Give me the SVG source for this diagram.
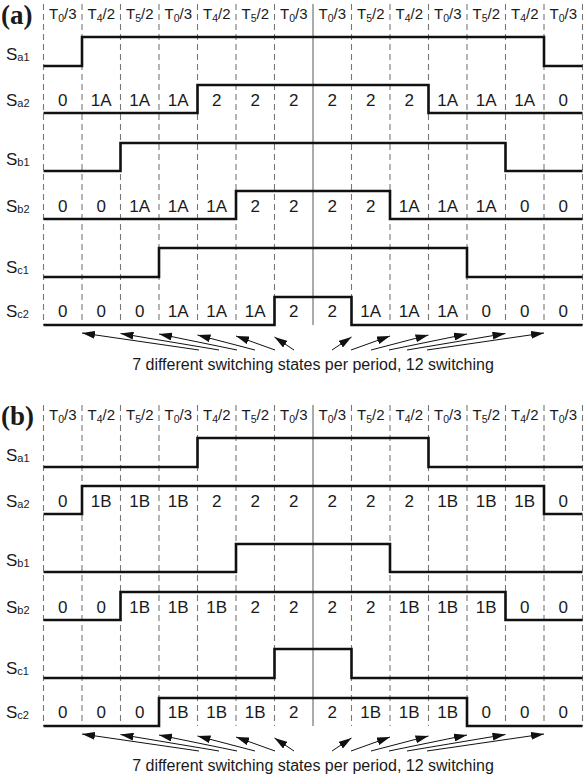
<svg xmlns="http://www.w3.org/2000/svg" width="587" height="776" viewBox="0 0 587 776">
<style>
text{font-family:"Liberation Sans",Arial,sans-serif;fill:#1a1a1a}
.hd{font-size:15px;text-anchor:middle}
.num{font-size:17px;text-anchor:middle}
.lbl{font-size:17px}
.cap{font-size:16px;text-anchor:middle}
.pl{font-family:"Liberation Serif","Times New Roman",serif;font-size:27px;font-weight:bold}
.wave{fill:none;stroke:#111;stroke-width:2.6}
.grid{stroke:#777;stroke-width:1.1;stroke-dasharray:6 4}
.ctr{stroke:#666;stroke-width:1.1}
.arr{stroke:#111;stroke-width:1;fill:none;marker-end:url(#ah)}
</style>
<defs>
<marker id="ah" viewBox="0 0 13 8" refX="13" refY="4" markerWidth="13" markerHeight="8" markerUnits="userSpaceOnUse" orient="auto"><path d="M0,0 L13,4 L0,8 z" fill="#111"/></marker>
<g id="gridA">
<line class="grid" x1="43.5" y1="4" x2="43.5" y2="325"/>
<line class="grid" x1="82" y1="4" x2="82" y2="325"/>
<line class="grid" x1="120.5" y1="4" x2="120.5" y2="325"/>
<line class="grid" x1="159" y1="4" x2="159" y2="325"/>
<line class="grid" x1="197.5" y1="4" x2="197.5" y2="325"/>
<line class="grid" x1="236" y1="4" x2="236" y2="325"/>
<line class="grid" x1="274.5" y1="4" x2="274.5" y2="325"/>
<line class="ctr" x1="313" y1="4" x2="313" y2="325"/>
<line class="grid" x1="351.5" y1="4" x2="351.5" y2="325"/>
<line class="grid" x1="390" y1="4" x2="390" y2="325"/>
<line class="grid" x1="428.5" y1="4" x2="428.5" y2="325"/>
<line class="grid" x1="467" y1="4" x2="467" y2="325"/>
<line class="grid" x1="505.5" y1="4" x2="505.5" y2="325"/>
<line class="grid" x1="544" y1="4" x2="544" y2="325"/>
<line class="grid" x1="582.5" y1="4" x2="582.5" y2="325"/>
</g>
<g id="hdrA">
<text class="hd" x="62.75" y="19">T<tspan font-size="10.5" dy="3">0</tspan><tspan dy="-3">/3</tspan></text>
<text class="hd" x="101.25" y="19">T<tspan font-size="10.5" dy="3">4</tspan><tspan dy="-3">/2</tspan></text>
<text class="hd" x="139.75" y="19">T<tspan font-size="10.5" dy="3">5</tspan><tspan dy="-3">/2</tspan></text>
<text class="hd" x="178.25" y="19">T<tspan font-size="10.5" dy="3">0</tspan><tspan dy="-3">/3</tspan></text>
<text class="hd" x="216.75" y="19">T<tspan font-size="10.5" dy="3">4</tspan><tspan dy="-3">/2</tspan></text>
<text class="hd" x="255.25" y="19">T<tspan font-size="10.5" dy="3">5</tspan><tspan dy="-3">/2</tspan></text>
<text class="hd" x="293.75" y="19">T<tspan font-size="10.5" dy="3">0</tspan><tspan dy="-3">/3</tspan></text>
<text class="hd" x="332.25" y="19">T<tspan font-size="10.5" dy="3">0</tspan><tspan dy="-3">/3</tspan></text>
<text class="hd" x="370.75" y="19">T<tspan font-size="10.5" dy="3">5</tspan><tspan dy="-3">/2</tspan></text>
<text class="hd" x="409.25" y="19">T<tspan font-size="10.5" dy="3">4</tspan><tspan dy="-3">/2</tspan></text>
<text class="hd" x="447.75" y="19">T<tspan font-size="10.5" dy="3">0</tspan><tspan dy="-3">/3</tspan></text>
<text class="hd" x="486.25" y="19">T<tspan font-size="10.5" dy="3">5</tspan><tspan dy="-3">/2</tspan></text>
<text class="hd" x="524.75" y="19">T<tspan font-size="10.5" dy="3">4</tspan><tspan dy="-3">/2</tspan></text>
<text class="hd" x="563.25" y="19">T<tspan font-size="10.5" dy="3">0</tspan><tspan dy="-3">/3</tspan></text>
</g>
<g id="arrA">
<line class="arr" x1="199" y1="350" x2="82" y2="333"/>
<line class="arr" x1="219" y1="350" x2="120.5" y2="333.5"/>
<line class="arr" x1="237" y1="350" x2="159" y2="334"/>
<line class="arr" x1="255" y1="350" x2="197.5" y2="335"/>
<line class="arr" x1="275" y1="350" x2="236" y2="336"/>
<line class="arr" x1="294" y1="350" x2="274.5" y2="337"/>
<line class="arr" x1="332" y1="350" x2="351.5" y2="337"/>
<line class="arr" x1="351" y1="350" x2="390" y2="336"/>
<line class="arr" x1="371" y1="350" x2="428.5" y2="335"/>
<line class="arr" x1="389" y1="350" x2="467" y2="334"/>
<line class="arr" x1="407" y1="350" x2="505.5" y2="333.5"/>
<line class="arr" x1="427" y1="350" x2="544" y2="333"/>
</g>
</defs>

<g id="panel-a">
<text class="pl" x="1" y="24">(a)</text>
<g id="grid-a"><use href="#gridA"/></g>
<g id="header-a"><use href="#hdrA"/></g>
<g id="a-Sa1"><text class="lbl" x="6" y="60">S<tspan font-size="11" dy="1">a1</tspan></text>
<path class="wave" d="M43.5,66 H82 V37 H544 V66 H582.5"/></g>
<g id="a-Sa2"><text class="lbl" x="6" y="106">S<tspan font-size="11" dy="1">a2</tspan></text>
<path class="wave" d="M43.5,113 H197.5 V85 H428.5 V113 H582.5"/>
<text class="num" x="62.75" y="106">0</text><text class="num" x="101.25" y="106">1A</text><text class="num" x="139.75" y="106">1A</text><text class="num" x="178.25" y="106">1A</text><text class="num" x="216.75" y="106">2</text><text class="num" x="255.25" y="106">2</text><text class="num" x="293.75" y="106">2</text><text class="num" x="332.25" y="106">2</text><text class="num" x="370.75" y="106">2</text><text class="num" x="409.25" y="106">2</text><text class="num" x="447.75" y="106">1A</text><text class="num" x="486.25" y="106">1A</text><text class="num" x="524.75" y="106">1A</text><text class="num" x="563.25" y="106">0</text></g>
<g id="a-Sb1"><text class="lbl" x="6" y="165">S<tspan font-size="11" dy="1">b1</tspan></text>
<path class="wave" d="M43.5,171 H120.5 V143 H505.5 V171 H582.5"/></g>
<g id="a-Sb2"><text class="lbl" x="6" y="212">S<tspan font-size="11" dy="1">b2</tspan></text>
<path class="wave" d="M43.5,219 H236 V191 H390 V219 H582.5"/>
<text class="num" x="62.75" y="212">0</text><text class="num" x="101.25" y="212">0</text><text class="num" x="139.75" y="212">1A</text><text class="num" x="178.25" y="212">1A</text><text class="num" x="216.75" y="212">1A</text><text class="num" x="255.25" y="212">2</text><text class="num" x="293.75" y="212">2</text><text class="num" x="332.25" y="212">2</text><text class="num" x="370.75" y="212">2</text><text class="num" x="409.25" y="212">1A</text><text class="num" x="447.75" y="212">1A</text><text class="num" x="486.25" y="212">1A</text><text class="num" x="524.75" y="212">0</text><text class="num" x="563.25" y="212">0</text></g>
<g id="a-Sc1"><text class="lbl" x="6" y="273">S<tspan font-size="11" dy="1">c1</tspan></text>
<path class="wave" d="M43.5,277 H159 V248 H467 V277 H582.5"/></g>
<g id="a-Sc2"><text class="lbl" x="6" y="317">S<tspan font-size="11" dy="1">c2</tspan></text>
<path class="wave" d="M43.5,325 H274.5 V297 H351.5 V325 H582.5"/>
<text class="num" x="62.75" y="317">0</text><text class="num" x="101.25" y="317">0</text><text class="num" x="139.75" y="317">0</text><text class="num" x="178.25" y="317">1A</text><text class="num" x="216.75" y="317">1A</text><text class="num" x="255.25" y="317">1A</text><text class="num" x="293.75" y="317">2</text><text class="num" x="332.25" y="317">2</text><text class="num" x="370.75" y="317">1A</text><text class="num" x="409.25" y="317">1A</text><text class="num" x="447.75" y="317">1A</text><text class="num" x="486.25" y="317">0</text><text class="num" x="524.75" y="317">0</text><text class="num" x="563.25" y="317">0</text></g>
<g id="connectors-a"><use href="#arrA"/></g>
<text class="cap" x="313" y="370">7 different switching states per period, 12 switching</text>
</g>

<g id="panel-b">
<text class="pl" x="1" y="425">(b)</text>
<g id="grid-b"><use href="#gridA" y="401"/></g>
<g id="header-b"><use href="#hdrA" y="401"/></g>
<g id="b-Sa1"><text class="lbl" x="6" y="461">S<tspan font-size="11" dy="1">a1</tspan></text>
<path class="wave" d="M43.5,467 H197.5 V438 H428.5 V467 H582.5"/></g>
<g id="b-Sa2"><text class="lbl" x="6" y="507">S<tspan font-size="11" dy="1">a2</tspan></text>
<path class="wave" d="M43.5,514 H82 V486 H544 V514 H582.5"/>
<text class="num" x="62.75" y="507">0</text><text class="num" x="101.25" y="507">1B</text><text class="num" x="139.75" y="507">1B</text><text class="num" x="178.25" y="507">1B</text><text class="num" x="216.75" y="507">2</text><text class="num" x="255.25" y="507">2</text><text class="num" x="293.75" y="507">2</text><text class="num" x="332.25" y="507">2</text><text class="num" x="370.75" y="507">2</text><text class="num" x="409.25" y="507">2</text><text class="num" x="447.75" y="507">1B</text><text class="num" x="486.25" y="507">1B</text><text class="num" x="524.75" y="507">1B</text><text class="num" x="563.25" y="507">0</text></g>
<g id="b-Sb1"><text class="lbl" x="6" y="566">S<tspan font-size="11" dy="1">b1</tspan></text>
<path class="wave" d="M43.5,572 H236 V544 H390 V572 H582.5"/></g>
<g id="b-Sb2"><text class="lbl" x="6" y="613">S<tspan font-size="11" dy="1">b2</tspan></text>
<path class="wave" d="M43.5,620 H120.5 V592 H505.5 V620 H582.5"/>
<text class="num" x="62.75" y="613">0</text><text class="num" x="101.25" y="613">0</text><text class="num" x="139.75" y="613">1B</text><text class="num" x="178.25" y="613">1B</text><text class="num" x="216.75" y="613">1B</text><text class="num" x="255.25" y="613">2</text><text class="num" x="293.75" y="613">2</text><text class="num" x="332.25" y="613">2</text><text class="num" x="370.75" y="613">2</text><text class="num" x="409.25" y="613">1B</text><text class="num" x="447.75" y="613">1B</text><text class="num" x="486.25" y="613">1B</text><text class="num" x="524.75" y="613">0</text><text class="num" x="563.25" y="613">0</text></g>
<g id="b-Sc1"><text class="lbl" x="6" y="674">S<tspan font-size="11" dy="1">c1</tspan></text>
<path class="wave" d="M43.5,678 H274.5 V649 H351.5 V678 H582.5"/></g>
<g id="b-Sc2"><text class="lbl" x="6" y="718">S<tspan font-size="11" dy="1">c2</tspan></text>
<path class="wave" d="M43.5,726 H159 V698 H467 V726 H582.5"/>
<text class="num" x="62.75" y="718">0</text><text class="num" x="101.25" y="718">0</text><text class="num" x="139.75" y="718">0</text><text class="num" x="178.25" y="718">1B</text><text class="num" x="216.75" y="718">1B</text><text class="num" x="255.25" y="718">1B</text><text class="num" x="293.75" y="718">2</text><text class="num" x="332.25" y="718">2</text><text class="num" x="370.75" y="718">1B</text><text class="num" x="409.25" y="718">1B</text><text class="num" x="447.75" y="718">1B</text><text class="num" x="486.25" y="718">0</text><text class="num" x="524.75" y="718">0</text><text class="num" x="563.25" y="718">0</text></g>
<g id="connectors-b"><use href="#arrA" y="401"/></g>
<text class="cap" x="313" y="771">7 different switching states per period, 12 switching</text>
</g>
</svg>
